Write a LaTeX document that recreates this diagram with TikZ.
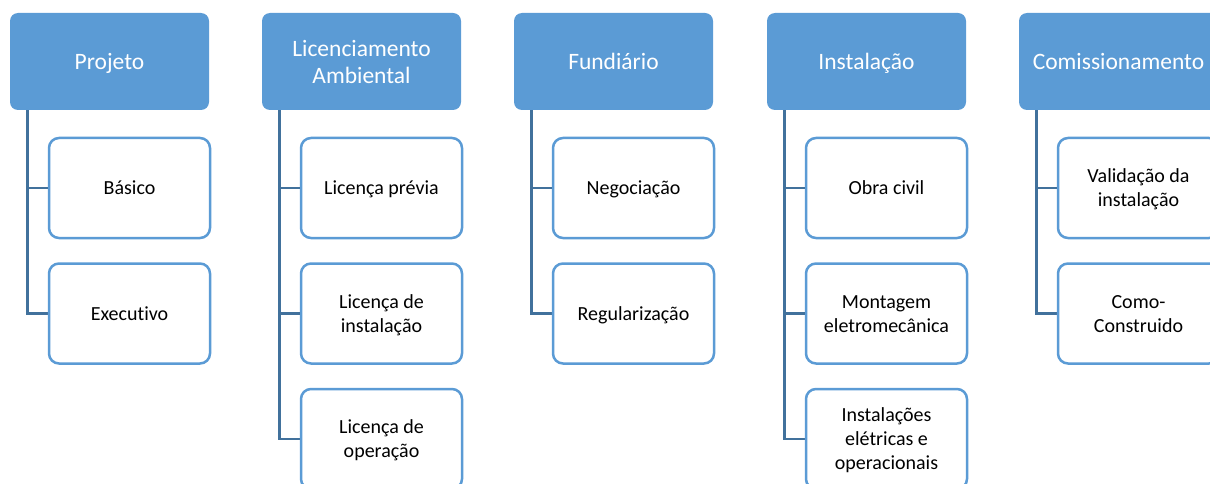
\documentclass[tikz,border=0pt]{standalone}
\usepackage{fontspec}
\setmainfont{Carlito}[Ligatures=NoCommon]
\definecolor{fasefill}{HTML}{5B9BD5}
\definecolor{ligacor}{HTML}{41719C}
\newcommand{\topofase}{\rule{0pt}{25pt}}
\newcommand{\topoitem}{\rule{0pt}{20.5pt}}

\begin{document}
\begin{tikzpicture}[x=1pt,y=-1pt,
  fase/.style={rectangle, rounded corners=8pt, fill=fasefill, text=white, minimum width=199pt, minimum height=97pt, align=center, font=\fontsize{23.5}{27}\selectfont, inner sep=0pt, execute at begin node=\topofase, execute at end node=\strut},
  item/.style={rectangle, rounded corners=10pt, draw=fasefill, line width=2.5pt, fill=white, minimum width=161pt, minimum height=100pt, align=center, font=\fontsize{20}{24}\selectfont, inner sep=0pt, execute at begin node=\topoitem, execute at end node=\strut},
  liga/.style={draw=ligacor, line width=2.8pt}]

\useasboundingbox (0,0) rectangle (1210,484);
\clip (0,0) rectangle (1210,484);

\node[fase] (projeto) at (109.5,61.5) {Projeto};
\node[fase] (licenc) at (361.5,61.5) {\topofase Licenciamento\\Ambiental};
\node[fase] (fundiario) at (613.5,61.5) {Fundiário};
\node[fase] (instal) at (866.5,61.5) {Instalação};
\node[fase] (comiss) at (1118.5,61.5) {Comissionamento};

\draw[liga] ([xshift=18pt]projeto.south west) |- (129.5,313.5);
\draw[liga] ([xshift=18pt]licenc.south west) |- (381.5,439);
\draw[liga] ([xshift=18pt]fundiario.south west) |- (633.5,313.5);
\draw[liga] ([xshift=18pt]instal.south west) |- (886.5,439);
\draw[liga] ([xshift=18pt]comiss.south west) |- (1138.5,313.5);

\node[item] (basico) at (129.5,188) {Básico};
\node[item] (executivo) at (129.5,313.5) {Executivo};

\node[item] (lprevia) at (381.5,188) {Licença prévia};
\node[item] (linstal) at (381.5,313.5) {\topoitem Licença de\\instalação};
\node[item] (loper) at (381.5,439) {\topoitem Licença de\\operação};

\node[item] (negoc) at (633.5,188) {Negociação};
\node[item] (regul) at (633.5,313.5) {Regularização};

\node[item] (obra) at (886.5,188) {Obra civil};
\node[item] (montagem) at (886.5,313.5) {\topoitem Montagem\\eletromecânica};
\node[item] (eletricas) at (886.5,439) {\topoitem Instalações\\elétricas e\\operacionais};

\node[item] (validacao) at (1138.5,188) {\topoitem Validação da\\instalação};
\node[item] (construido) at (1138.5,313.5) {\topoitem Como-\\Construido};

\draw[liga] ([xshift=18pt]projeto.south west |- basico.west) -- (basico.west);
\draw[liga] ([xshift=18pt]licenc.south west |- lprevia.west) -- (lprevia.west);
\draw[liga] ([xshift=18pt]licenc.south west |- linstal.west) -- (linstal.west);
\draw[liga] ([xshift=18pt]fundiario.south west |- negoc.west) -- (negoc.west);
\draw[liga] ([xshift=18pt]instal.south west |- obra.west) -- (obra.west);
\draw[liga] ([xshift=18pt]instal.south west |- montagem.west) -- (montagem.west);
\draw[liga] ([xshift=18pt]comiss.south west |- validacao.west) -- (validacao.west);

\end{tikzpicture}
\end{document}
